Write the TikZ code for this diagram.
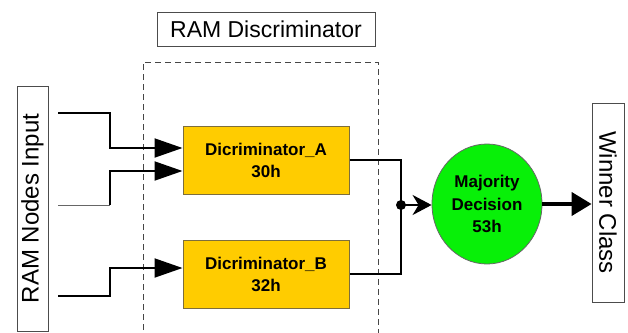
\documentclass[tikz,border=0pt]{standalone}
\usepackage{fontspec}
\setmainfont{Liberation Sans}
\usetikzlibrary{arrows.meta,shapes.geometric}
\definecolor{boxyellow}{RGB}{255,204,0}
\definecolor{boxedge}{RGB}{125,110,60}
\definecolor{circgreen}{RGB}{8,240,8}
\definecolor{dashgray}{RGB}{70,70,70}
\tikzset{
  labelbox/.style={draw=black!70, line width=0.8pt, fill=white, inner sep=0pt},
  discbox/.style={draw=boxedge, line width=1pt, fill=boxyellow, minimum width=166pt, minimum height=68pt, inner sep=0pt, align=center, font=\fontsize{17}{22}\selectfont\bfseries},
  inline/.style={line width=2pt, -{Triangle[length=28pt,width=19pt]}},
  outline/.style={line width=2pt},
}
\begin{document}
\begin{tikzpicture}[x=1pt,y=-1pt]
\useasboundingbox (0,0) rectangle (628,332);
% dashed frame
\draw[dashgray, line width=1pt, dash pattern=on 6pt off 4pt] (143,340) -- (143,62) -- (378,62) -- (378,340);
% label boxes
\node[labelbox, minimum width=218pt, minimum height=34pt, font=\fontsize{23}{26}\selectfont] (T) at (266,29) {RAM Discriminator};
\node[labelbox, rotate=90, minimum width=245pt, minimum height=31pt, font=\fontsize{24}{26}\selectfont] (I) at (32.5,208.5) {RAM Nodes Input};
\node[labelbox, rotate=-90, minimum width=199pt, minimum height=32pt, font=\fontsize{24}{26}\selectfont] (W) at (608,202.5) {Winner Class};
% discriminators
\node[discbox] (A) at (266,160) {Dicriminator\_A\\30h};
\node[discbox] (B) at (266,274) {Dicriminator\_B\\32h};
% majority
\node[ellipse, draw=black!60, line width=0.8pt, fill=circgreen, minimum width=110pt, minimum height=120pt, inner sep=0pt, align=center, font=\fontsize{17}{22.5}\selectfont\bfseries] (M) at (487,204) {Majority\\Decision\\53h};
% inputs
\coordinate (i1) at (58,113);
\coordinate (i2) at (58,205);
\coordinate (i3) at (58,296);
\draw[inline] (i1) -- ++(52,0) |- ([yshift=12pt]A.west);
\draw[black!60, line width=1pt] (i2) -- ++(52,0) coordinate (i2b);
\draw[inline] (i2b) |- ([yshift=-11pt]A.west);
\draw[inline] (i3) -- ++(52,0) |- ([yshift=6pt]B.west);
% outputs
\coordinate (J) at (401,205);
\draw[outline] (A.east) -| (J) |- (B.east);
\fill (J) circle (5pt);
\draw[line width=2.5pt, -{Stealth[length=19pt,width=20pt,inset=6pt]}] (J) -- (J -| M.west);
\draw[line width=4pt, -{Triangle[length=20pt,width=23pt]}] (M.east) -- (M.east -| W.south);
\end{tikzpicture}
\end{document}
